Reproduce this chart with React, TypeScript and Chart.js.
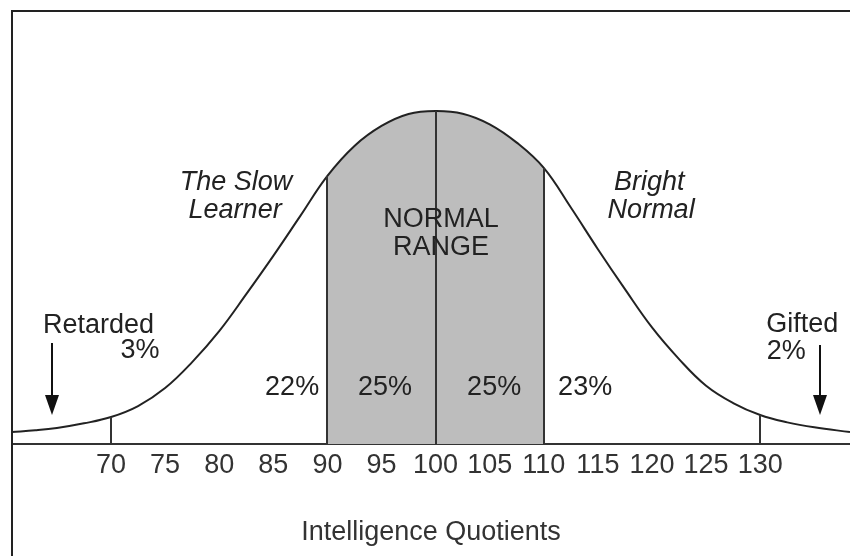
import React, { useEffect, useRef } from "react";
import { Chart, registerables } from "chart.js";

Chart.register(...registerables);

// IQ positions along the curve and the curve height (percent of the peak)
const iqValues = [60.85, 63, 65, 67.5, 70, 72.5, 75, 77.5, 80, 82.5, 85, 87.5, 90, 92.5, 95, 97.5, 100, 102.5, 105, 107.5, 110, 112.5, 115, 117.5, 120, 122.5, 125, 127.5, 130, 132.5, 135, 138.3];
const curveHeights = [3.6, 4.1, 4.8, 6.2, 8.1, 11.4, 16.8, 24.6, 33.9, 45, 56.5, 68.5, 80.5, 89.5, 95.5, 99.1, 100, 99.2, 96, 90.5, 82.9, 71, 58.5, 46.5, 35, 25.5, 17.5, 12.3, 8.7, 6.5, 5, 3.6];

const tickLabels = [70, 75, 80, 85, 90, 95, 100, 105, 110, 115, 120, 125, 130];
const dividers = [70, 90, 100, 110, 130];
const normalRange = [90, 110];

const bandLabels = ["22%", "25%", "25%", "23%"];
const bandCenters = [86.74, 95.33, 105.41, 113.82];

type Note = { text: string; x: number; y: number; italic?: boolean };
const notes: Note[] = [
  { text: "The Slow", x: 81.56, y: 76.3, italic: true },
  { text: "Learner", x: 81.47, y: 67.9, italic: true },
  { text: "Bright", x: 119.74, y: 76.3, italic: true },
  { text: "Normal", x: 119.92, y: 67.9, italic: true },
  { text: "NORMAL", x: 100.51, y: 65.2 },
  { text: "RANGE", x: 100.51, y: 56.8 },
  { text: "Retarded", x: 68.85, y: 33.3 },
  { text: "3%", x: 72.68, y: 25.8 },
  { text: "Gifted", x: 133.88, y: 33.6 },
  { text: "2%", x: 132.4, y: 25.5 },
];
const arrows = [
  { x: 64.55, from: 30.3, to: 8.7 },
  { x: 135.55, from: 29.7, to: 8.7 },
];

const INK = "#222";
const FONT = "'Liberation Sans', Arial, sans-serif";
const SIZE = 27;

const heightAt = (v: number) => curveHeights[iqValues.indexOf(v)];

const decorPlugin = {
  id: "decor",
  afterDatasetsDraw(chart: any) {
    const { ctx } = chart;
    const xs = chart.scales.x;
    const ys = chart.scales.y;
    ctx.save();
    // frame
    ctx.strokeStyle = INK;
    ctx.lineWidth = 2;
    ctx.beginPath();
    ctx.moveTo(12, 560);
    ctx.lineTo(12, 11);
    ctx.lineTo(852, 11);
    ctx.stroke();
    // dividers
    ctx.lineWidth = 2;
    ctx.strokeStyle = "#333";
    dividers.forEach((v) => {
      const px = Math.round(xs.getPixelForValue(v));
      ctx.beginPath();
      ctx.moveTo(px, ys.getPixelForValue(0));
      ctx.lineTo(px, ys.getPixelForValue(heightAt(v)));
      ctx.stroke();
    });
    // arrows
    ctx.strokeStyle = "#111";
    ctx.fillStyle = "#111";
    arrows.forEach((a) => {
      const px = Math.round(xs.getPixelForValue(a.x));
      const y0 = ys.getPixelForValue(a.from);
      const y1 = ys.getPixelForValue(a.to);
      ctx.beginPath();
      ctx.moveTo(px, y0);
      ctx.lineTo(px, y1 - 10);
      ctx.stroke();
      ctx.beginPath();
      ctx.moveTo(px - 7, y1 - 20);
      ctx.lineTo(px + 7, y1 - 20);
      ctx.lineTo(px, y1);
      ctx.closePath();
      ctx.fill();
    });
    // text
    ctx.fillStyle = INK;
    ctx.textAlign = "center";
    ctx.textBaseline = "alphabetic";
    notes.forEach((n) => {
      ctx.font = `${n.italic ? "italic " : ""}${SIZE}px ${FONT}`;
      ctx.fillText(n.text, xs.getPixelForValue(n.x), ys.getPixelForValue(n.y));
    });
    ctx.font = `${SIZE}px ${FONT}`;
    bandLabels.forEach((t, i) => {
      ctx.fillText(t, xs.getPixelForValue(bandCenters[i]), ys.getPixelForValue(14.7));
    });
    ctx.restore();
  },
};

export default function App() {
  const ref = useRef<HTMLCanvasElement | null>(null);
  useEffect(() => {
    if (!ref.current) return;
    const curve = iqValues.map((x, i) => ({ x, y: curveHeights[i] }));
    const band = curve.filter((p) => p.x >= normalRange[0] && p.x <= normalRange[1]);
    const chart = new Chart(ref.current, {
      type: "line",
      data: {
        datasets: [
          {
            data: curve,
            borderColor: INK,
            borderWidth: 2,
            pointRadius: 0,
            tension: 0.4,
            fill: false,
            clip: false as any,
            order: 1,
          },
          {
            data: band,
            borderWidth: 0,
            borderColor: "rgba(0,0,0,0)",
            backgroundColor: "#bdbdbd",
            pointRadius: 0,
            tension: 0.4,
            fill: "origin",
            order: 2,
          },
        ],
      },
      options: {
        responsive: false,
        animation: false,
        layout: { padding: { left: 12, right: 0, top: 44.4, bottom: 0 } },
        plugins: { legend: { display: false }, tooltip: { enabled: false } },
        scales: {
          x: {
            type: "linear",
            min: 60.85,
            max: 138.3,
            afterBuildTicks: (s: any) => {
              s.ticks = tickLabels.map((v) => ({ value: v }));
            },
            afterFit: (s: any) => {
              s.height = 112;
            },
            grid: { display: false, drawTicks: false },
            border: { display: true, color: "#333", width: 2 },
            ticks: {
              autoSkip: false,
              maxRotation: 0,
              padding: 5,
              color: "#333",
              font: { family: FONT, size: SIZE },
            },
            title: {
              display: true,
              text: "Intelligence Quotients",
              color: "#333",
              font: { family: FONT, size: SIZE },
              padding: { top: 0, bottom: 7 },
            },
          },
          y: { type: "linear", min: 0, max: 120, display: false },
        },
      },
      plugins: [decorPlugin],
    });
    return () => chart.destroy();
  }, []);
  return (
    <div style={{ position: "fixed", left: 0, top: 0, width: 850, height: 556, background: "#fff" }}>
      <canvas ref={ref} width={850} height={556} style={{ display: "block" }} />
    </div>
  );
}
